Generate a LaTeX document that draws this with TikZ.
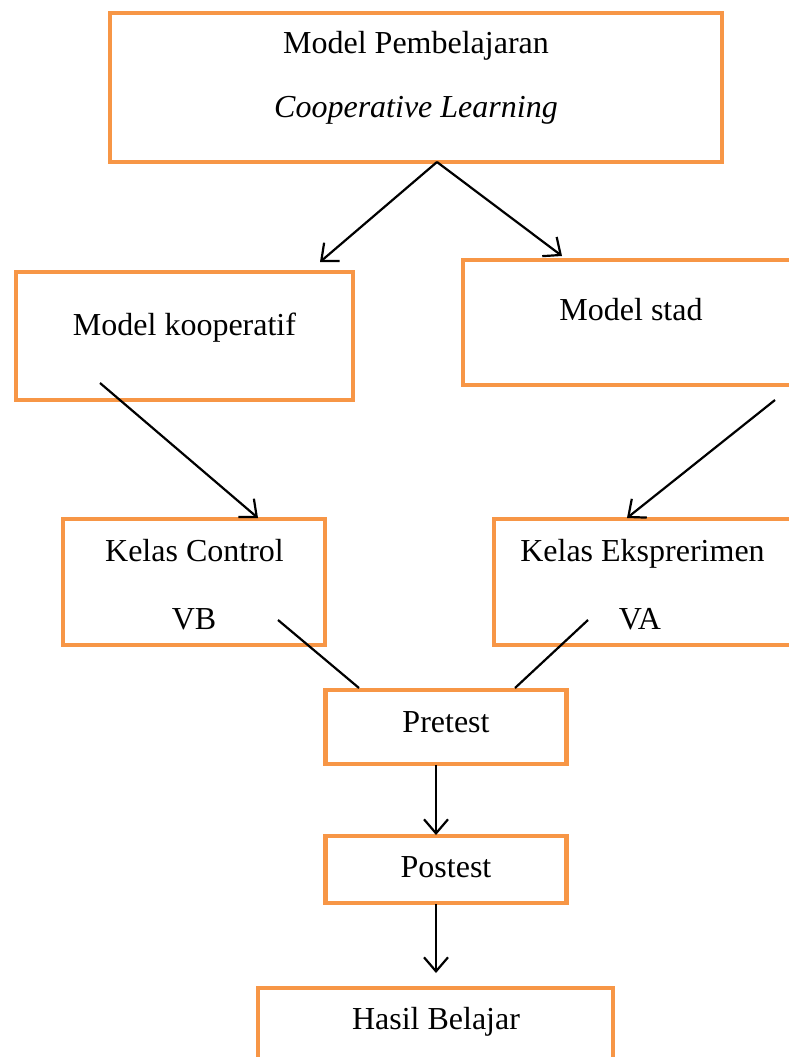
\documentclass[tikz,border=0pt]{standalone}
\usepackage{fontspec}
\setmainfont{Liberation Serif}
\usetikzlibrary{arrows.meta}
\definecolor{boxorange}{RGB}{247,150,70}
\tikzset{
  box/.style={draw=boxorange, line width=4.5pt, fill=none, inner sep=0pt, outer sep=0pt},
  lbl/.style={anchor=base, inner sep=0pt, font=\fontsize{32}{37}\selectfont},
  conn/.style={draw=black, line width=2.2pt},
  arr/.style={conn, -{Straight Barb[length=14pt,width=24pt,line width=2.2pt]}}
}
\begin{document}
\begin{tikzpicture}[x=1pt,y=-1pt]
\useasboundingbox (0,0) rectangle (789,1057);
% boxes
\node[box, minimum width=612pt, minimum height=149pt] (b1) at (416,87.5) {};
\node[box, minimum width=337pt, minimum height=128pt] (b2) at (184.5,336) {};
\node[box, minimum width=345pt, minimum height=125pt] (b3) at (635.5,322.5) {};
\node[box, minimum width=262pt, minimum height=126pt] (b4) at (194,582) {};
\node[box, minimum width=310pt, minimum height=126pt] (b5) at (649,582) {};
\node[box, minimum width=241pt, minimum height=74pt] (b6) at (446,727) {};
\node[box, minimum width=241pt, minimum height=67pt] (b7) at (446,869.5) {};
\node[box, minimum width=355pt, minimum height=90pt] (b8) at (435.5,1033) {};
% texts
\node[lbl] (t1a) at (416,53) {Model Pembelajaran};
\node[lbl] (t1b) at (416,117) {\itshape Cooperative Learning};
\node[lbl] (t2) at (184.5,335) {Model kooperatif};
\node[lbl] (t3) at (631,320) {Model stad};
\node[lbl] (t4a) at (194.5,561) {Kelas Control};
\node[lbl] (t4b) at (194,629) {VB};
\node[lbl] (t5a) at (642.5,561) {Kelas Eksprerimen};
\node[lbl] (t5b) at (640,629) {VA};
\node[lbl] (t6) at (446,732) {Pretest};
\node[lbl] (t7) at (446,877) {Postest};
\node[lbl] (t8) at (436,1029) {Hasil Belajar};
% connector end points
\coordinate (c1) at (437,162);
\coordinate (c2top) at (320,262);
\coordinate (c3top) at (562,256);
\coordinate (c2bot) at (100,383);
\coordinate (c4top) at (258,518);
\coordinate (c3bot) at (775,400);
\coordinate (c5top) at (627,518);
\coordinate (c4in) at (278,620);
\coordinate (c6l) at (359,688);
\coordinate (c5in) at (588,620);
\coordinate (c6r) at (515,688);
\coordinate (c6b) at (436,765);
\coordinate (c7t) at (436,835);
\coordinate (c7b) at (436,904);
\coordinate (c8t) at (436,973);
% connectors
\draw[arr] (c1) -- (c2top);
\draw[arr] (c1) -- (c3top);
\draw[arr] (c2bot) -- (c4top);
\draw[arr] (c3bot) -- (c5top);
\draw[conn] (c4in) -- (c6l);
\draw[conn] (c5in) -- (c6r);
\draw[arr] (c6b) -- (c7t);
\draw[arr] (c7b) -- (c8t);
\end{tikzpicture}
\end{document}
